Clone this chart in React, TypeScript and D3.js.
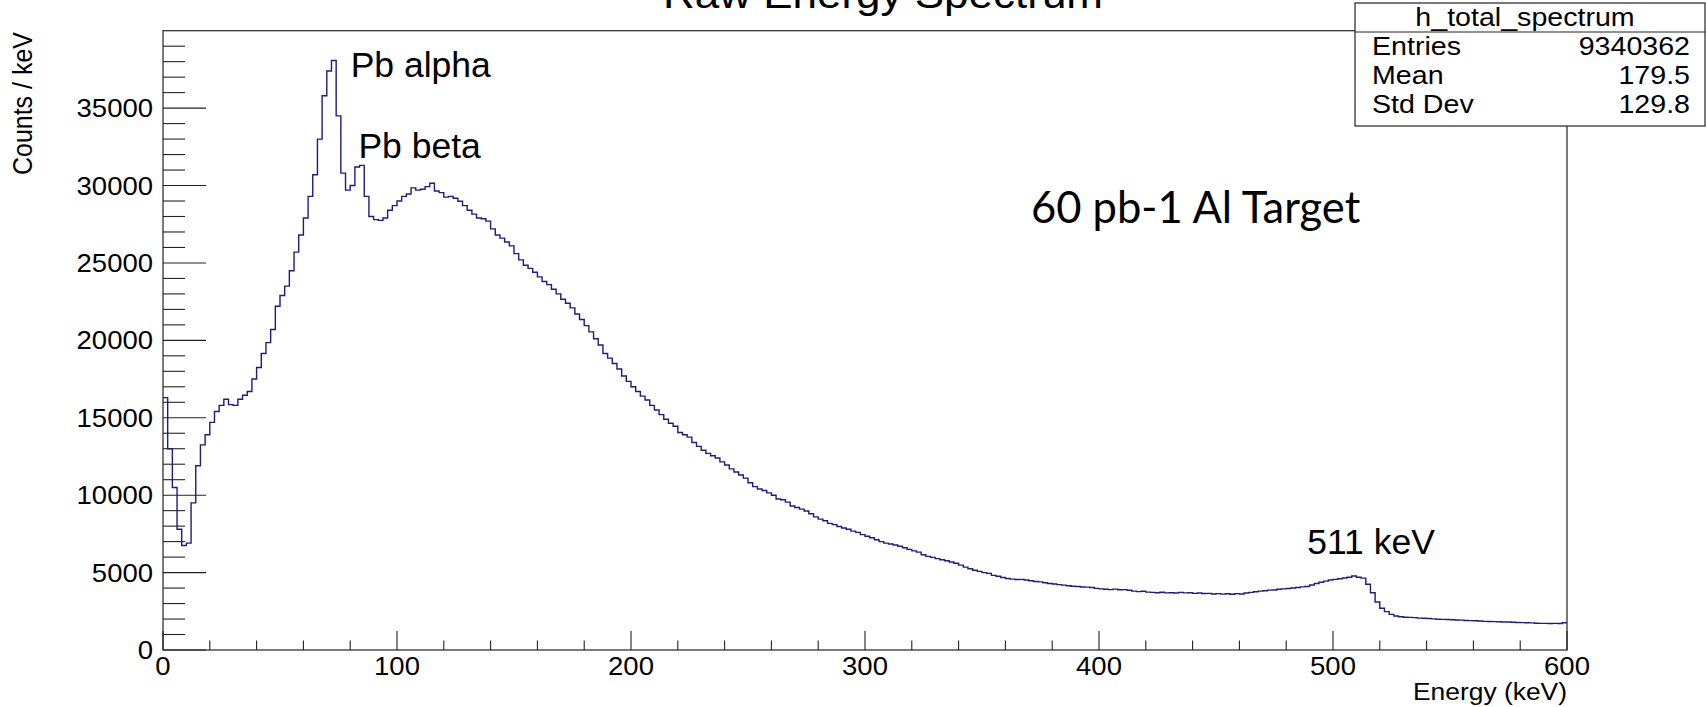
import * as d3 from "d3";
import React from "react";

// histogram content, 2 keV bins from 0 to 600 keV (counts / keV)
const binWidth = 2;
const counts = [
  16300, 13000, 10500, 7800, 6750, 6900, 9500, 11900, 13250, 13900,
  14700, 15400, 15800, 16200, 15850, 15800, 16200, 16450, 16700, 17500,
  18250, 19150, 19850, 20700, 22200, 22900, 23500, 24500, 25700, 26800,
  27900, 29300, 30700, 33000, 35800, 37400, 38080, 34500, 30800, 29700,
  30000, 31200, 31300, 29300, 28000, 27800, 27750, 27900, 28400, 28700,
  29000, 29300, 29450, 29850, 29700, 29760, 29930, 30150, 29650, 29540,
  29250, 29300, 29180, 28980, 28700, 28400, 28150, 27900, 27850, 27700,
  27200, 26800, 26600, 26350, 26100, 25600, 25200, 24850, 24650, 24400,
  24100, 23800, 23600, 23300, 23000, 22650, 22400, 22100, 21700, 21350,
  20950, 20550, 20100, 19700, 19150, 18850, 18500, 18150, 17700, 17350,
  17000, 16700, 16400, 16150, 15800, 15500, 15200, 14900, 14650, 14450,
  14050, 13900, 13750, 13400, 13150, 12900, 12700, 12550, 12400, 12150,
  11950, 11700, 11500, 11300, 11100, 10800, 10550, 10400, 10300, 10150,
  10000, 9750, 9700, 9550, 9300, 9200, 9100, 8980, 8800, 8600,
  8450, 8350, 8180, 8100, 7980, 7880, 7800, 7680, 7600, 7450,
  7350, 7250, 7120, 7000, 6900, 6850, 6780, 6700, 6600, 6500,
  6400, 6320, 6150, 6050, 5980, 5900, 5830, 5760, 5680, 5600,
  5480, 5350, 5250, 5150, 5080, 5000, 4950, 4820, 4760, 4680,
  4620, 4580, 4550, 4560, 4520, 4470, 4420, 4400, 4340, 4300,
  4260, 4220, 4190, 4150, 4120, 4100, 4070, 4060, 4040, 3980,
  3950, 3920, 3900, 3930, 3890, 3900, 3860, 3800, 3770, 3790,
  3740, 3720, 3700, 3730, 3690, 3700, 3680, 3720, 3690, 3700,
  3660, 3680, 3650, 3660, 3620, 3640, 3610, 3630, 3600, 3640,
  3620, 3680, 3720, 3760, 3800, 3830, 3870, 3880, 3920, 3950,
  3970, 4000, 4040, 4080, 4100, 4200, 4300, 4380, 4450, 4520,
  4560, 4600, 4650, 4700, 4780, 4700, 4640, 4250, 3700, 3100,
  2700, 2480, 2300, 2200, 2150, 2120, 2110, 2090, 2060, 2050,
  2030, 2010, 1990, 1980, 1970, 1950, 1940, 1930, 1910, 1900,
  1890, 1870, 1850, 1840, 1830, 1820, 1810, 1810, 1790, 1780,
  1770, 1760, 1750, 1730, 1720, 1720, 1710, 1720, 1710, 1760,
];

const xMajor = [0, 100, 200, 300, 400, 500, 600];
const yMajor = [0, 5000, 10000, 15000, 20000, 25000, 30000, 35000];
const statsRows = [
  ["Entries", "9340362"],
  ["Mean", "179.5"],
  ["Std Dev", "129.8"],
];
const peakLabels = [
  { text: "Pb alpha", e: 80.2, c: 37000 },
  { text: "Pb beta", e: 83.5, c: 31800 },
  { text: "511 keV", e: 489, c: 6200 },
];

const W = 1706, H = 707;
const left = 163, right = 1567, top = 30.7, bottom = 650;
const SX = 1.1; // root text looks stretched sideways
const font = "'Liberation Sans', Arial, Helvetica, sans-serif";

function T({ x, y, size, anchor = "start", sx = SX, rot = 0, family = font, children }) {
  const tr = `translate(${x},${y}) scale(${sx},1)` + (rot ? ` rotate(${rot})` : "");
  return (
    <text transform={tr} fontSize={size} textAnchor={anchor} fontFamily={family} fill="#000">
      {children}
    </text>
  );
}

export default function App() {
  const x = d3.scaleLinear().domain([0, 600]).range([left, right]);
  const y = d3.scaleLinear().domain([0, 40000]).range([bottom, top]);

  const pts = counts.map((c, i) => [i * binWidth, c]);
  pts.push([counts.length * binWidth, counts[counts.length - 1]]);
  const line = d3
    .line()
    .x((d) => x(d[0]))
    .y((d) => y(d[1]))
    .curve(d3.curveStepAfter);

  const yMinor = d3.range(0, 40000, 1000).filter((v) => v % 5000 !== 0);
  const xMinor = d3.range(0, 600, 20).filter((v) => v % 100 !== 0);

  const bx0 = 1355, bx1 = 1705, by0 = 3, by1 = 126;

  return (
    <svg width={W} height={H} style={{ position: "absolute", left: 0, top: 0, background: "#fff" }}>
      <rect x={0} y={0} width={W} height={H} fill="#fff" />

      {/* title, mostly cut off at the top */}
      <T x={883} y={8} size={40} anchor="middle">Raw Energy Spectrum</T>

      {/* frame */}
      <rect x={left} y={top} width={right - left} height={bottom - top} fill="none" stroke="#222" strokeWidth={1.2} />

      {/* y ticks */}
      {yMajor.map((v) => (
        <line key={"ym" + v} x1={left} x2={left + 43} y1={y(v)} y2={y(v)} stroke="#222" strokeWidth={1.1} />
      ))}
      {yMinor.map((v) => (
        <line key={"yn" + v} x1={left} x2={left + 22} y1={y(v)} y2={y(v)} stroke="#222" strokeWidth={1.1} />
      ))}
      {yMajor.map((v) => (
        <T key={"yl" + v} x={153} y={y(v) + 9} size={25} anchor="end">{v}</T>
      ))}

      {/* x ticks */}
      {xMajor.map((v) => (
        <line key={"xm" + v} x1={x(v)} x2={x(v)} y1={bottom} y2={bottom - 19} stroke="#222" strokeWidth={1.1} />
      ))}
      {xMinor.map((v) => (
        <line key={"xn" + v} x1={x(v)} x2={x(v)} y1={bottom} y2={bottom - 9.5} stroke="#222" strokeWidth={1.1} />
      ))}
      {xMajor.map((v) => (
        <T key={"xl" + v} x={x(v)} y={675} size={25} anchor="middle">{v}</T>
      ))}

      {/* axis titles */}
      <T x={1567} y={700} size={24} anchor="end">Energy (keV)</T>
      <T x={32} y={32} size={25} anchor="end" rot={-90}>Counts / keV</T>

      {/* histogram */}
      <path d={line(pts)} fill="none" stroke="#1c1c82" strokeWidth={1.4} />

      {/* annotations */}
      {peakLabels.map((p) => (
        <T key={p.text} x={x(p.e)} y={y(p.c)} size={35.5} sx={1}>{p.text}</T>
      ))}
      <T x={1031} y={223} size={43.5} sx={1} family="Lato, 'Open Sans', sans-serif">60 pb-1 Al Target</T>

      {/* stats box */}
      <rect x={bx0} y={by0} width={bx1 - bx0} height={by1 - by0} fill="#fff" stroke="#222" strokeWidth={1.2} />
      <line x1={bx0} x2={bx1} y1={32} y2={32} stroke="#222" strokeWidth={1.2} />
      <T x={(bx0 + bx1) / 2 - 5} y={25.5} size={26} anchor="middle">h_total_spectrum</T>
      {statsRows.map((r, i) => (
        <g key={r[0]}>
          <T x={1372} y={55 + i * 29} size={26}>{r[0]}</T>
          <T x={1690} y={55 + i * 29} size={26} anchor="end">{r[1]}</T>
        </g>
      ))}
    </svg>
  );
}
